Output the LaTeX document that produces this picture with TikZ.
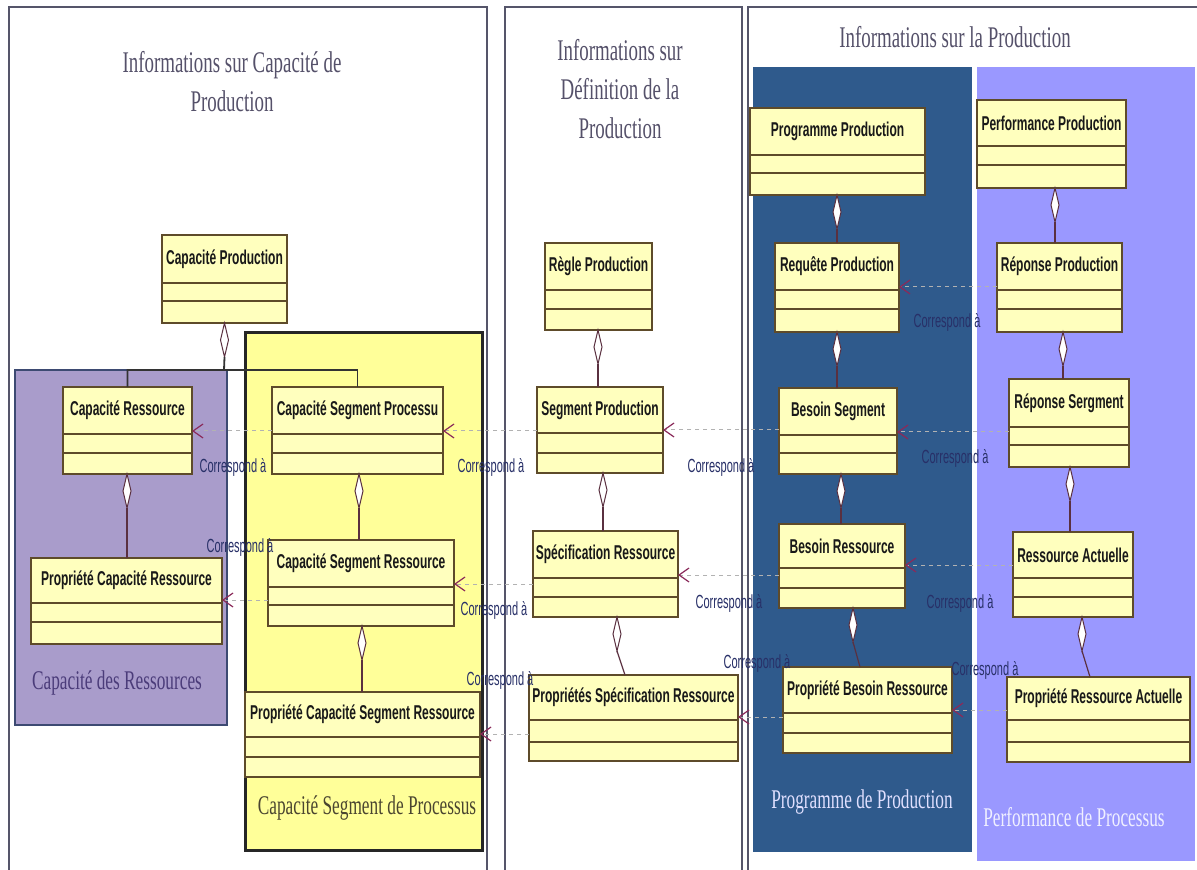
\documentclass[tikz,border=0pt]{standalone}
\usepackage{fontspec}
\usetikzlibrary{arrows.meta,shapes.geometric,calc}
\newfontfamily\serifc{Liberation Serif}[FakeStretch=0.63]
\newfontfamily\serifg{Liberation Serif}[FakeStretch=0.64]
\newfontfamily\sansc{Liberation Sans}[FakeStretch=0.6]
\newfontfamily\sansl{Liberation Sans}[FakeStretch=0.58]
\definecolor{clsF}{HTML}{FFFFBE}
\definecolor{clsB}{HTML}{5E4B2A}
\definecolor{grpY}{HTML}{FFFF99}
\definecolor{purpF}{HTML}{A99CCB}
\definecolor{purpB}{HTML}{3D4A72}
\definecolor{purpT}{HTML}{4B3C7A}
\definecolor{oliveT}{HTML}{4A4530}
\definecolor{blueF}{HTML}{2F5A8C}
\definecolor{lavF}{HTML}{9A98FF}
\definecolor{panelC}{HTML}{55556A}
\definecolor{ttlC}{HTML}{55516A}
\definecolor{lblC}{HTML}{283068}
\definecolor{tipC}{HTML}{8A2A5A}
\definecolor{diaC}{HTML}{5A3040}
\tikzset{
  panel/.style={draw=panelC, line width=1.2pt},
  clsbox/.style={draw=clsB, fill=clsF, line width=0.8pt, inner sep=0pt, outer sep=0pt, rectangle},
  clsname/.style={font=\sansc\bfseries\fontsize{10}{11}\selectfont, text=black!90, inner sep=0pt},
  clsdiv/.style={draw=clsB, line width=0.9pt},
  grpbox/.style={rectangle, inner sep=0pt, outer sep=0pt},
  ttl/.style={font=\serifc\fontsize{15}{19.5}\selectfont, text=ttlC, align=center},
  grplbl/.style={font=\serifg\fontsize{13.5}{15}\selectfont},
  lbl/.style={font=\sansl\fontsize{9.5}{10}\selectfont, text=lblC, inner sep=0pt},
  dep/.style={draw=gray!60, line width=0.5pt, dash pattern=on 2pt off 2pt,
    -{Straight Barb[length=5pt,width=7pt,color=tipC,line width=0.6pt]}},
  aggdia/.style={diamond, draw=diaC, fill=white, line width=0.5pt, inner sep=0pt, outer sep=0pt,
    minimum width=4pt, minimum height=17pt, anchor=north},
  aggline/.style={draw=diaC, line width=0.6pt},
}
\newcommand\umlclass[8]{%
  \node[clsbox, minimum width={(#4-#2)*0.5pt}, minimum height={(#5-#3)*0.5pt}, anchor=north west] (#1) at (#2,#3) {};
  \node[clsname] (#1-t) at ($(#2,#3)!0.5!(#4,#6)$) {#8};
  \draw[clsdiv] (#2,#6) -- (#4,#6) (#2,#7) -- (#4,#7);
  \coordinate (#1-de) at (#4,{#6-3});
}
\newcommand\grp[6]{%
  \node[grpbox, #6, minimum width={(#4-#2)*0.5pt}, minimum height={(#5-#3)*0.5pt}, anchor=north west] (#1) at (#2,#3) {};
}
\begin{document}
\begin{tikzpicture}[x=0.5pt,y=-0.5pt]
\useasboundingbox (0,0) rectangle (1197,870);
\fill[white] (0,0) rectangle (1197,870);
% panels
\draw[panel] (9,885) -- (9,7) -- (487,7) -- (487,885);
\draw[panel] (505,885) -- (505,7) -- (742,7) -- (742,885);
\draw[panel] (748,885) -- (748,7) -- (1200,7);
% groups
\grp{gres}{15}{370}{227}{725}{draw=purpB, fill=purpF, line width=1pt}
\grp{gseg}{245}{333}{482}{850}{draw=black!85, fill=grpY, line width=1.5pt}
\grp{gprog}{753}{67}{972}{852}{fill=blueF}
\grp{gperf}{977}{67}{1195}{861}{fill=lavF}
\node[grplbl, text=purpT] (gres-l) at (117,683) {Capacité des Ressources};
\node[grplbl, text=oliveT] (gseg-l) at (367,808) {Capacité Segment de Processus};
\node[grplbl, text=white!88!blue] (gprog-l) at (862,802) {Programme de Production};
\node[grplbl, text=white!94!blue] (gperf-l) at (1074,817) {Performance de Processus};
% titles
\node[ttl] (t1) at (232,82) {Informations sur Capacité de\\Production};
\node[ttl] (t2) at (620,89) {Informations sur\\Définition de la\\Production};
\node[ttl] (t3) at (955,37) {Informations sur la Production};
% class boxes
\umlclass{cp}{162}{235}{287}{323}{283}{301}{Capacité Production}
\umlclass{cr}{63}{387}{192}{474}{434}{453}{Capacité Ressource}
\umlclass{pcr}{31}{558}{222}{644}{603}{622}{Propriété Capacité Ressource}
\umlclass{csp}{272}{387}{443}{474}{434}{453}{Capacité Segment Processu}
\umlclass{csr}{268}{540}{454}{626}{587}{605}{Capacité Segment Ressource}
\umlclass{pcsr}{245}{692}{480}{777}{737}{757}{Propriété Capacité Segment Ressource}
\umlclass{rp}{545}{243}{652}{330}{290}{309}{Règle Production}
\umlclass{sp}{537}{387}{663}{473}{433}{453}{Segment Production}
\umlclass{sr}{533}{531}{678}{617}{578}{597}{Spécification Ressource}
\umlclass{psr}{529}{675}{738}{761}{720}{742}{Propriétés Spécification Ressource}
\umlclass{pp}{750}{108}{925}{195}{155}{173}{Programme Production}
\umlclass{rq}{775}{243}{899}{332}{290}{309}{Requête Production}
\umlclass{bs}{779}{388}{897}{474}{435}{453}{Besoin Segment}
\umlclass{br}{779}{524}{905}{608}{568}{588}{Besoin Ressource}
\umlclass{pbr}{783}{667}{952}{753}{713}{733}{Propriété Besoin Ressource}
\umlclass{pf}{977}{100}{1126}{188}{146}{165}{Performance Production}
\umlclass{rpp}{997}{243}{1122}{332}{290}{309}{Réponse Production}
\umlclass{rs}{1009}{379}{1129}{467}{427}{445}{Réponse Sergment}
\umlclass{ra}{1013}{532}{1133}{617}{578}{597}{Ressource Actuelle}
\umlclass{pra}{1007}{677}{1190}{762}{720}{742}{Propriété Ressource Actuelle}
% dependencies
\foreach \s/\t in {csp/cr, csr/pcr, sp/csp, sr/csr, psr/pcsr, bs/sp, br/sr, pbr/psr, rpp/rq, rs/bs, ra/br, pra/pbr}
  \draw[dep] (\s.west |- \t-de) -- (\t-de);
% aggregations
\node[aggdia] (d0) at (cp.south) {};
\coordinate (j0) at (224,370);
\draw[draw=black!80, line width=0.9pt] (d0.south) -- (j0) -| (cr.north);
\draw[draw=black!80, line width=0.9pt] (j0) -| (csp.north);
\node[aggdia] (d1) at (127,474) {};
\draw[aggline] (d1.south) -- (d1.south |- pcr.north);
\node[aggdia] (d2) at (359,474) {};
\draw[aggline] (d2.south) -- (d2.south |- csr.north);
\node[aggdia] (d3) at (362,626) {};
\draw[aggline] (d3.south) -- (d3.south |- pcsr.north);
\node[aggdia] (d4) at (598,330) {};
\draw[aggline] (d4.south) -- (d4.south |- sp.north);
\node[aggdia] (d5) at (603,473) {};
\draw[aggline] (d5.south) -- (d5.south |- sr.north);
\node[aggdia] (d6) at (617,617) {};
\draw[aggline] (d6.south) -- ([xshift=-4.25pt]psr.north);
\node[aggdia] (d7) at (837,195) {};
\draw[aggline] (d7.south) -- (d7.south |- rq.north);
\node[aggdia] (d8) at (837,332) {};
\draw[aggline] (d8.south) -- (d8.south |- bs.north);
\node[aggdia] (d9) at (841,474) {};
\draw[aggline] (d9.south) -- (d9.south |- br.north);
\node[aggdia] (d10) at (853,608) {};
\draw[aggline] (d10.south) -- ([xshift=-3.75pt]pbr.north);
\node[aggdia] (d11) at (1055,188) {};
\draw[aggline] (d11.south) -- (d11.south |- rpp.north);
\node[aggdia] (d12) at (1063,332) {};
\draw[aggline] (d12.south) -- (d12.south |- rs.north);
\node[aggdia] (d13) at (1070,467) {};
\draw[aggline] (d13.south) -- (d13.south |- ra.north);
\node[aggdia] (d14) at (1082,617) {};
\draw[aggline] (d14.south) -- ([xshift=-4.25pt]pra.north);
% labels
\node[lbl] (l1) at (233,467) {Correspond à};
\node[lbl] (l2) at (240,547) {Correspond à};
\node[lbl] (l3) at (491,467) {Correspond à};
\node[lbl] (l4) at (494,610) {Correspond à};
\node[lbl] (l5) at (500,680) {Correspond à};
\node[lbl] (l6) at (721,467) {Correspond à};
\node[lbl] (l7) at (729,603) {Correspond à};
\node[lbl] (l8) at (757,663) {Correspond à};
\node[lbl] (l9) at (947,322) {Correspond à};
\node[lbl] (l10) at (955,458) {Correspond à};
\node[lbl] (l11) at (960,603) {Correspond à};
\node[lbl] (l12) at (985,670) {Correspond à};
\end{tikzpicture}
\end{document}
